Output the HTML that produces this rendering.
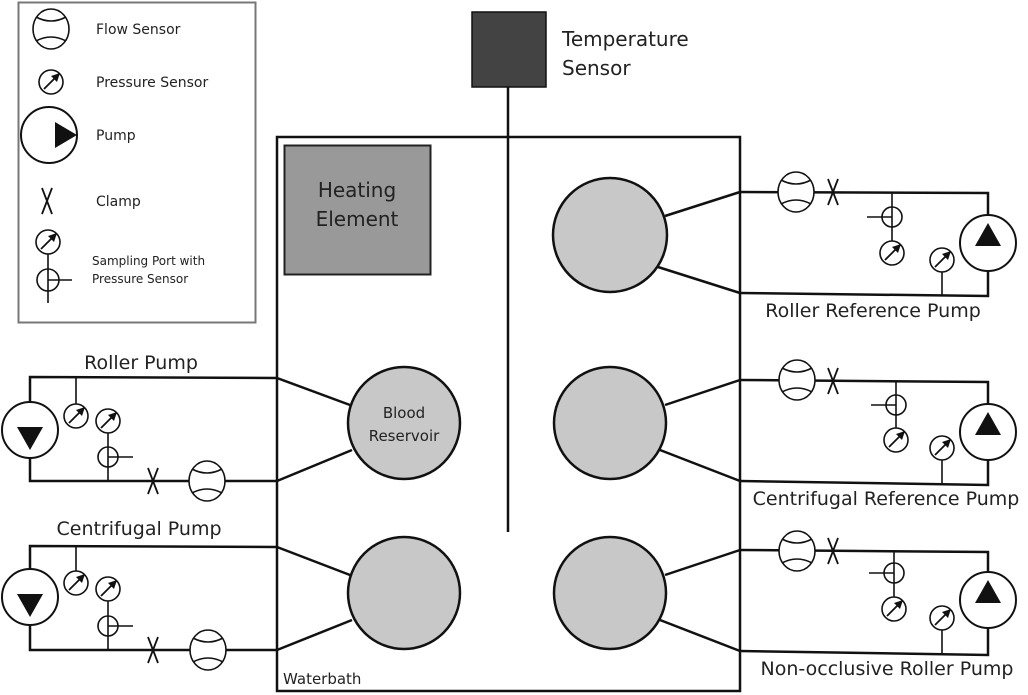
<!DOCTYPE html>
<html><head><meta charset="utf-8"><style>
html,body{margin:0;padding:0;background:#fff;}
svg{display:block;}
text{font-family:"DejaVu Sans","Liberation Sans",sans-serif;fill:#222;}
</style></head><body>
<svg width="1028" height="695" viewBox="0 0 1028 695" xmlns="http://www.w3.org/2000/svg">
<defs>
<g id="flow"><ellipse cx="0" cy="0" rx="18" ry="20" fill="#fff" stroke="#111" stroke-width="1.6"/><path d="M-15,-12 Q0,-4 15,-12 M-15,12 Q0,4 15,12" fill="none" stroke="#111" stroke-width="1.6"/></g>
<g id="press"><circle r="12" fill="#fff" stroke="#111" stroke-width="1.6"/><line x1="-7" y1="7" x2="4" y2="-4" stroke="#111" stroke-width="1.8"/><polygon points="9,-9 0,-6 6,0" fill="#111"/></g>
<g id="clamp"><path d="M-5,-13 Q0,0 5,13 M5,-13 Q0,0 -5,13" fill="none" stroke="#111" stroke-width="1.8"/></g>
<g id="pumpUp"><circle r="28" fill="#fff" stroke="#111" stroke-width="2"/><polygon points="0,-20 13,3 -13,3" fill="#111"/></g>
<g id="pumpDown"><circle r="28" fill="#fff" stroke="#111" stroke-width="2"/><polygon points="0,20 13,-3 -13,-3" fill="#111"/></g>
</defs>

<rect x="18.5" y="2.5" width="237" height="320" fill="#fff" stroke="#777" stroke-width="2"/>
<use href="#flow" x="51" y="29"/>
<text x="96" y="34" font-size="14">Flow Sensor</text>
<use href="#press" x="51" y="82"/>
<text x="96" y="87" font-size="14">Pressure Sensor</text>
<circle cx="49" cy="135" r="28" fill="#fff" stroke="#111" stroke-width="2"/>
<polygon points="55,122 77,135 55,148" fill="#111"/>
<text x="96" y="140" font-size="14">Pump</text>
<use href="#clamp" x="47" y="201"/>
<text x="96" y="206" font-size="14">Clamp</text>
<line x1="48" y1="254" x2="48" y2="303" stroke="#111" stroke-width="1.6"/>
<use href="#press" x="48" y="242"/>
<circle cx="48" cy="280" r="11" fill="none" stroke="#111" stroke-width="1.6"/>
<line x1="48" y1="280" x2="72" y2="280" stroke="#111" stroke-width="1.6"/>
<text x="92" y="265" font-size="12">Sampling Port with</text>
<text x="92" y="283" font-size="12">Pressure Sensor</text>

<rect x="472" y="12" width="74" height="75" fill="#434343" stroke="#111" stroke-width="1.5"/>
<text x="562" y="46" font-size="20">Temperature</text>
<text x="562" y="75" font-size="20">Sensor</text>
<line x1="508" y1="87" x2="508" y2="532" stroke="#111" stroke-width="2.5"/>

<rect x="277" y="137" width="463" height="554" fill="none" stroke="#111" stroke-width="2.5"/>
<text x="283" y="684" font-size="15">Waterbath</text>
<rect x="284.5" y="145.5" width="146" height="129" fill="#999" stroke="#222" stroke-width="2"/>
<text x="357" y="197" font-size="20" text-anchor="middle">Heating</text>
<text x="357" y="226" font-size="20" text-anchor="middle">Element</text>

<g fill="#c8c8c8" stroke="#111" stroke-width="2.5">
<circle cx="610" cy="235" r="57"/>
<circle cx="610" cy="423" r="56"/>
<circle cx="610" cy="593" r="56"/>
<circle cx="404" cy="423" r="56"/>
<circle cx="404" cy="593" r="56"/>
</g>
<text x="404" y="418" font-size="15" text-anchor="middle">Blood</text>
<text x="404" y="441" font-size="15" text-anchor="middle">Reservoir</text>

<g stroke="#111" stroke-width="2.5" fill="none">
<line x1="665" y1="216" x2="740" y2="192"/><line x1="658" y1="267" x2="740" y2="293"/>
<line x1="665" y1="405" x2="740" y2="380"/><line x1="660" y1="450" x2="740" y2="481"/>
<line x1="665" y1="575" x2="740" y2="550"/><line x1="660" y1="620" x2="740" y2="651"/>
<line x1="350" y1="405" x2="277" y2="378"/><line x1="352" y1="450" x2="277" y2="481"/>
<line x1="350" y1="575" x2="277" y2="547"/><line x1="352" y1="620" x2="277" y2="650"/>
<path d="M740,192 L988,193 L988,215"/><path d="M740,293 L988,296 L988,271"/>
<path d="M740,380 L988,382 L988,404"/><path d="M740,481 L988,485 L988,460"/>
<path d="M740,550 L988,552 L988,572"/><path d="M740,651 L988,655 L988,628"/>
<path d="M277,378 L30,377 L30,402"/><path d="M277,481 L30,481 L30,458"/>
<path d="M277,547 L30,546 L30,569"/><path d="M277,650 L30,650 L30,625"/>
</g>

<g stroke="#111" stroke-width="1.6">
<line x1="892" y1="193" x2="892" y2="241"/><line x1="867" y1="217" x2="892" y2="217"/><line x1="942" y1="272" x2="942" y2="296"/>
<line x1="896" y1="381" x2="896" y2="428"/><line x1="871" y1="405" x2="896" y2="405"/><line x1="942" y1="460" x2="942" y2="484"/>
<line x1="894" y1="551" x2="894" y2="598"/><line x1="869" y1="573" x2="894" y2="573"/><line x1="942" y1="630" x2="942" y2="654"/>
<line x1="76" y1="377" x2="76" y2="404"/><line x1="108" y1="433" x2="108" y2="481"/><line x1="108" y1="457" x2="133" y2="457"/>
<line x1="76" y1="546" x2="76" y2="571"/><line x1="108" y1="601" x2="108" y2="650"/><line x1="108" y1="626" x2="133" y2="626"/>
</g>

<use href="#flow" x="796" y="192"/><use href="#clamp" x="833" y="192"/>
<circle cx="892" cy="217" r="10" fill="none" stroke="#111" stroke-width="1.6"/>
<use href="#press" x="892" y="253"/><use href="#press" x="942" y="260"/><use href="#pumpUp" x="988" y="243"/>

<use href="#flow" x="797" y="380"/><use href="#clamp" x="833" y="381"/>
<circle cx="896" cy="405" r="10" fill="none" stroke="#111" stroke-width="1.6"/>
<use href="#press" x="896" y="440"/><use href="#press" x="942" y="448"/><use href="#pumpUp" x="988" y="432"/>

<use href="#flow" x="797" y="551"/><use href="#clamp" x="833" y="551"/>
<circle cx="894" cy="573" r="10" fill="none" stroke="#111" stroke-width="1.6"/>
<use href="#press" x="894" y="609"/><use href="#press" x="942" y="618"/><use href="#pumpUp" x="988" y="600"/>

<use href="#pumpDown" x="30" y="430"/><use href="#press" x="76" y="416"/><use href="#press" x="108" y="421"/>
<circle cx="108" cy="457" r="10" fill="none" stroke="#111" stroke-width="1.6"/>
<use href="#clamp" x="153" y="481"/><use href="#flow" x="207" y="481"/>

<use href="#pumpDown" x="30" y="597"/><use href="#press" x="76" y="583"/><use href="#press" x="108" y="589"/>
<circle cx="108" cy="626" r="10" fill="none" stroke="#111" stroke-width="1.6"/>
<use href="#clamp" x="153" y="650"/><use href="#flow" x="208" y="650"/>

<text x="873" y="317" font-size="19" text-anchor="middle">Roller Reference Pump</text>
<text x="886" y="505" font-size="19" text-anchor="middle">Centrifugal Reference Pump</text>
<text x="887" y="675" font-size="19" text-anchor="middle">Non-occlusive Roller Pump</text>
<text x="141" y="369" font-size="19" text-anchor="middle">Roller Pump</text>
<text x="139" y="535" font-size="19" text-anchor="middle">Centrifugal Pump</text>
</svg>
</body></html>
